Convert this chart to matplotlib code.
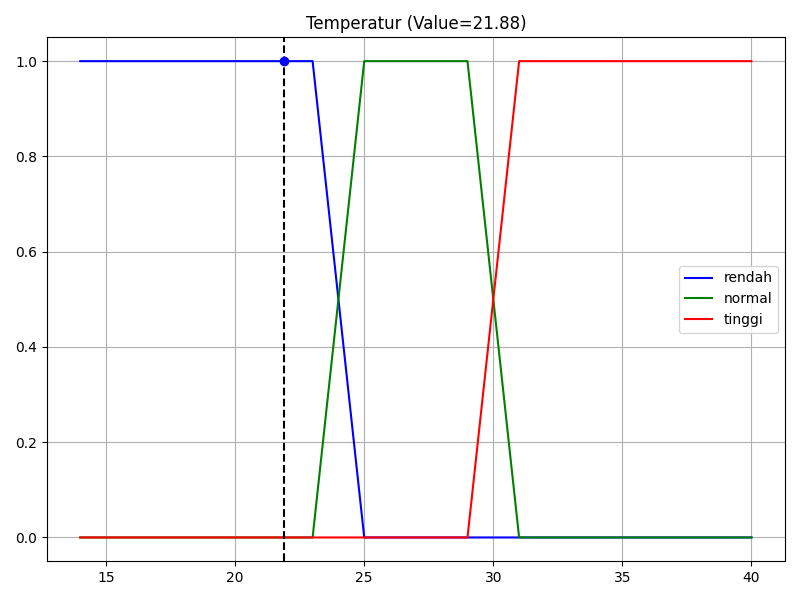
import numpy as np
import matplotlib
matplotlib.use("Agg")
import matplotlib.pyplot as plt

# --- membership function breakpoints ---
rendah_x = [14, 23, 25, 40]
rendah_y = [1, 1, 0, 0]
normal_x = [14, 23, 25, 29, 31, 40]
normal_y = [0, 0, 1, 1, 0, 0]
tinggi_x = [14, 29, 31, 40]
tinggi_y = [0, 0, 1, 1]

value = 21.88
value_mu = 1.0

fig, ax = plt.subplots(figsize=(8, 6), dpi=100)
ax.plot(rendah_x, rendah_y, color='blue', label='rendah')
ax.plot(normal_x, normal_y, color='green', label='normal')
ax.plot(tinggi_x, tinggi_y, color='red', label='tinggi')

# current input value
ax.axvline(value, color='black', linestyle='--')
ax.scatter([value], [value_mu], color='blue', zorder=3)

ax.set_title(f'Temperatur (Value={value:.2f})')
ax.legend(loc='center right')
ax.grid(True)

plt.tight_layout()
plt.savefig('out.png')
